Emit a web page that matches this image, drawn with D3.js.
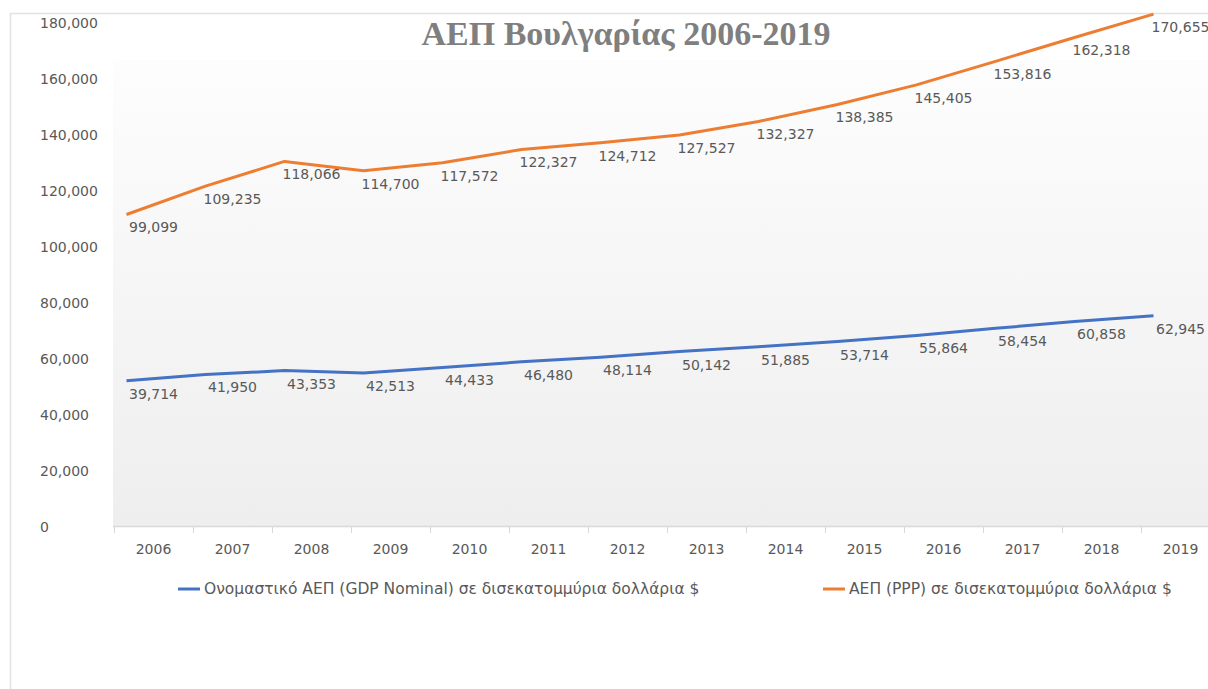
<!DOCTYPE html>
<html>
<head>
<meta charset="utf-8">
<script src="https://cdn.jsdelivr.net/npm/d3@7"></script>
<style>
  body { margin: 0; background: #fff; }
  svg { display: block; }
</style>
</head>
<body>
<div id="chart"></div>
<script>
const years = ["2006", "2007", "2008", "2009", "2010", "2011", "2012", "2013", "2014", "2015", "2016", "2017", "2018", "2019"];
const nominal = [39714, 41950, 43353, 42513, 44433, 46480, 48114, 50142, 51885, 53714, 55864, 58454, 60858, 62945];
const ppp = [99099, 109235, 118066, 114700, 117572, 122327, 124712, 127527, 132327, 138385, 145405, 153816, 162318, 170655];
const yTicks = [0, 20000, 40000, 60000, 80000, 100000, 120000, 140000, 160000, 180000];
const titleText = "ΑΕΠ Βουλγαρίας 2006-2019";
const nominalName = "Ονομαστικό ΑΕΠ (GDP Nominal) σε δισεκατομμύρια δολλάρια $";
const pppName = "ΑΕΠ (PPP) σε δισεκατομμύρια δολλάρια $";

const width = 1208, height = 689;
const plotLeft = 113, plotRight = 1219, plotTop = 60, plotBottom = 526;
const blue = "#4472c4", orange = "#ed7d31";
const font = "'DejaVu Sans', sans-serif";
// in the picture the line layer sits a little up and left of the axes
const lineShift = { dx: -27, dy: -35 };

const svg = d3.select("#chart")
    .append("svg")
    .attr("width", width)
    .attr("height", height);

const defs = svg.append("defs");
const grad = defs.append("linearGradient")
    .attr("id", "plotbg")
    .attr("x1", 0).attr("y1", 0).attr("x2", 0).attr("y2", 1);
grad.append("stop").attr("offset", "0%").attr("stop-color", "#fdfdfd");
grad.append("stop").attr("offset", "100%").attr("stop-color", "#eeeeee");

// chart frame
svg.append("line")
    .attr("x1", 10.5).attr("x2", 10.5).attr("y1", 13).attr("y2", height)
    .attr("stroke", "#e2e2e2").attr("stroke-width", 1.5);
svg.append("line")
    .attr("x1", 10).attr("x2", width).attr("y1", 13.5).attr("y2", 13.5)
    .attr("stroke", "#e2e2e2").attr("stroke-width", 1.5);

svg.append("rect")
    .attr("x", plotLeft).attr("y", plotTop)
    .attr("width", plotRight - plotLeft).attr("height", plotBottom - plotTop)
    .attr("fill", "url(#plotbg)");

const xScale = d3.scaleBand()
    .domain(years)
    .range([114, 114 + 79 * years.length]);

const yScale = d3.scaleLinear()
    .domain([0, 180000])
    .range([527, 23]);

// y axis labels (left aligned, no axis line)
const yAxis = d3.axisLeft(yScale)
    .tickValues(yTicks)
    .tickFormat(d3.format(","))
    .tickSize(0);

svg.append("g")
    .attr("id", "y-axis")
    .attr("transform", "translate(40,0)")
    .call(yAxis)
    .call(g => g.select(".domain").remove())
    .call(g => g.selectAll("text")
        .attr("x", 0)
        .attr("text-anchor", "start")
        .attr("dy", "0.35em")
        .attr("fill", "#595959")
        .style("font-family", font)
        .style("font-size", "14px"));

// x axis: line, boundary ticks and year labels
svg.append("line")
    .attr("x1", plotLeft).attr("x2", plotRight)
    .attr("y1", plotBottom + 0.5).attr("y2", plotBottom + 0.5)
    .attr("stroke", "#d9d9d9").attr("stroke-width", 1.5);

svg.append("g")
    .selectAll("line")
    .data(years)
    .enter()
    .append("line")
    .attr("x1", d => xScale(d) + 0.5)
    .attr("x2", d => xScale(d) + 0.5)
    .attr("y1", plotBottom)
    .attr("y2", plotBottom + 7)
    .attr("stroke", "#d9d9d9");

const xAxis = d3.axisBottom(xScale).tickSize(0).tickPadding(0);
svg.append("g")
    .attr("id", "x-axis")
    .attr("transform", "translate(0,549)")
    .call(xAxis)
    .call(g => g.select(".domain").remove())
    .call(g => g.selectAll("text")
        .attr("y", 0)
        .attr("dy", "0.35em")
        .attr("fill", "#595959")
        .style("font-family", font)
        .style("font-size", "14px"));

// title
svg.append("text")
    .attr("x", 626)
    .attr("y", 45)
    .attr("text-anchor", "middle")
    .attr("fill", "#7f7f7f")
    .style("font-family", "'Liberation Serif', 'DejaVu Serif', serif")
    .style("font-weight", "bold")
    .style("font-size", "34px")
    .text(titleText);

// lines
const cx = d => xScale(d) + xScale.bandwidth() / 2;
const series = [
    { name: nominalName, values: nominal, color: blue },
    { name: pppName, values: ppp, color: orange }
];

const lineGen = d3.line()
    .x(d => cx(d.year))
    .y(d => yScale(d.value));

const lines = svg.append("g")
    .attr("transform", "translate(" + lineShift.dx + "," + lineShift.dy + ")");

series.forEach(s => {
    const pts = years.map((y, i) => ({ year: y, value: s.values[i] }));
    lines.append("path")
        .datum(pts)
        .attr("fill", "none")
        .attr("stroke", s.color)
        .attr("stroke-width", 3)
        .attr("stroke-linejoin", "round")
        .attr("d", lineGen);

    svg.append("g")
        .selectAll("text")
        .data(pts)
        .enter()
        .append("text")
        .attr("x", d => cx(d.year))
        .attr("y", d => yScale(d.value) + lineShift.dy + 13)
        .attr("dy", "0.35em")
        .attr("text-anchor", "middle")
        .attr("fill", "#595959")
        .style("font-family", font)
        .style("font-size", "14px")
        .text(d => d3.format(",")(d.value));
});

// legend
const legend = [
    { name: nominalName, color: blue, x: 178 },
    { name: pppName, color: orange, x: 823 }
];
const lg = svg.append("g").selectAll("g")
    .data(legend)
    .enter()
    .append("g")
    .attr("transform", d => "translate(" + d.x + ",589)");
lg.append("line")
    .attr("x1", 0).attr("x2", 22).attr("y1", 0).attr("y2", 0)
    .attr("stroke", d => d.color).attr("stroke-width", 3);
lg.append("text")
    .attr("x", 26)
    .attr("dy", "0.35em")
    .attr("fill", "#595959")
    .style("font-family", font)
    .style("font-size", "15.5px")
    .text(d => d.name);
</script>
</body>
</html>
